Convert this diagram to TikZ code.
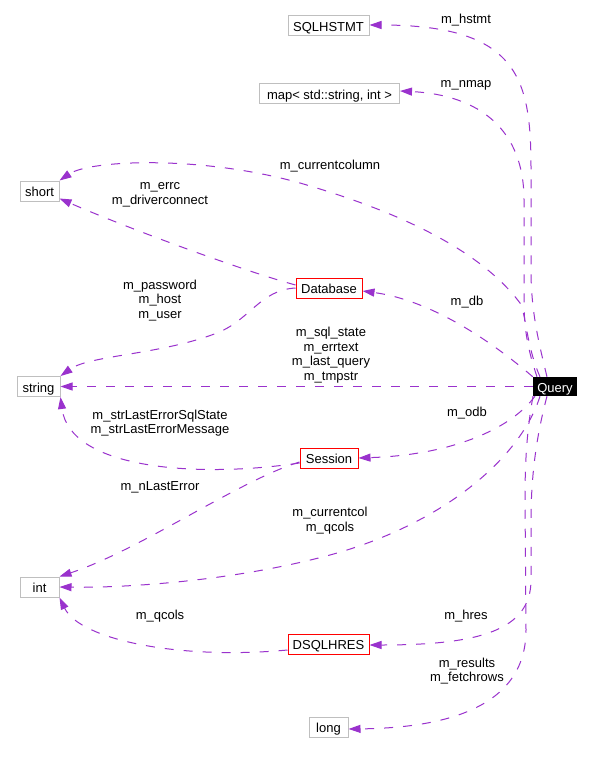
\documentclass[tikz,border=0pt]{standalone}
\usepackage{fontspec}
\setmainfont{Liberation Sans}
\usetikzlibrary{arrows.meta}
\definecolor{edgec}{HTML}{9A32CD}
\definecolor{boxgray}{HTML}{BFBFBF}
\definecolor{boxred}{HTML}{FF0000}
\newcommand{\fsz}{\fontsize{13}{14.6}\selectfont}
\begin{document}
\begin{tikzpicture}[x=1pt,y=-1pt,
  cls/.style={draw=boxgray, line width=1pt, minimum height=20pt, inner sep=0pt, text height=11.5pt, text depth=0pt, font=\fsz},
  redcls/.style={cls, draw=boxred},
  qcls/.style={fill=black, text=white, minimum height=19pt, minimum width=44pt, inner sep=0pt, text height=11.5pt, text depth=0pt, font=\fsz},
  rel/.style={draw=edgec, line width=1pt, dash pattern=on 9pt off 10pt, -{Triangle[length=12pt,width=8pt]}},
  lbl/.style={font=\fsz, align=center, inner sep=0pt}
]
\useasboundingbox[fill=white] (0,0) rectangle (593,757);

% nodes
\node[cls, minimum width=81pt] (SQLHSTMT) at (328.5,26) {SQLHSTMT};
\node[cls, minimum width=140pt] (map) at (329.5,94) {map< std::string, int >};
\node[cls, minimum width=39pt] (short) at (39.5,191) {short};
\node[redcls, minimum width=66pt] (Database) at (329,288) {Database};
\node[cls, minimum width=43pt] (string) at (38.5,386.5) {string};
\node[qcls] (Query) at (555,386.5) {Query};
\node[redcls, minimum width=58pt] (Session) at (329,458) {Session};
\node[cls, minimum width=39pt] (int) at (39.5,587) {int};
\node[redcls, minimum width=81pt] (DSQLHRES) at (328.5,644) {DSQLHRES};
\node[cls, minimum width=39pt] (long) at (328.5,727) {long};

% edges from Query
\draw[rel] ([xshift=-8pt]Query.north) .. controls (538,340) and (531,310) .. (531,270) -- (531,170) .. controls (531,80) and (520,25) .. ([yshift=1pt]SQLHSTMT.east);
\draw[rel] ([xshift=-18pt]Query.north) .. controls (528,350) and (524,330) .. (524,300) -- (524,200) .. controls (524,130) and (480,95) .. ([yshift=3pt]map.east);
\draw[rel] ([xshift=-15pt]Query.north) .. controls (526,345) and (526,313) .. (520,303) .. controls (480,250) and (400,212) .. (300,183) .. controls (200,155) and (90,160) .. (short.north east);
\draw[rel] (Query.north west) .. controls (490,340) and (430,300) .. ([yshift=-3pt]Database.east);
\draw[rel] (Query.west) -- (string.east);
\draw[rel] ([xshift=-20pt]Query.south) .. controls (510,430) and (450,455) .. (Session.east);
\draw[rel] ([xshift=-15pt]Query.south) .. controls (520,460) and (440,525) .. (330,555) .. controls (230,582) and (120,588) .. (int.east);
\draw[rel] ([xshift=-8pt]Query.south) .. controls (538,430) and (531,470) .. (531,520) -- (531,580) .. controls (531,630) and (480,645) .. ([yshift=-1pt]DSQLHRES.east);
\draw[rel] ([xshift=-22pt]Query.south) .. controls (527,430) and (525,460) .. (525,500) -- (526,630) .. controls (526,710) and (440,728) .. ([yshift=-2pt]long.east);

% edges from Database
\draw[rel] ([yshift=3pt]Database.west) .. controls (240,270) and (120,225) .. ([yshift=3pt]short.south east);
\draw[rel] (Database.west) .. controls (260,290) and (250,320) .. (217,333) .. controls (160,355) and (90,355) .. (string.north east);

% edges from Session
\draw[rel] ([yshift=-5pt]Session.west) .. controls (200,478) and (70,470) .. (string.south east);
\draw[rel] ([yshift=-4pt]Session.west) .. controls (240,480) and (140,550) .. (int.north east);

% edge from DSQLHRES
\draw[rel] ([yshift=-6pt]DSQLHRES.west) .. controls (180,660) and (80,640) .. (int.south east);

% labels
\node[lbl] (l1) at (466,20) {m\_hstmt};
\node[lbl] (l2) at (466,85) {m\_nmap};
\node[lbl] (l3) at (330,166) {m\_currentcolumn};
\node[lbl] (l4) at (160,195) {m\_errc\\m\_driverconnect};
\node[lbl] (l5) at (160,300.5) {m\_password\\m\_host\\m\_user};
\node[lbl] (l6) at (467,302) {m\_db};
\node[lbl] (l7) at (331,355) {m\_sql\_state\\m\_errtext\\m\_last\_query\\m\_tmpstr};
\node[lbl] (l8) at (160,423) {m\_strLastErrorSqlState\\m\_strLastErrorMessage};
\node[lbl] (l9) at (467,413) {m\_odb};
\node[lbl] (l10) at (160,487) {m\_nLastError};
\node[lbl] (l11) at (330,520.5) {m\_currentcol\\m\_qcols};
\node[lbl] (l12) at (160,616) {m\_qcols};
\node[lbl] (l13) at (466,616) {m\_hres};
\node[lbl] (l14) at (467,671) {m\_results\\m\_fetchrows};
\end{tikzpicture}
\end{document}
